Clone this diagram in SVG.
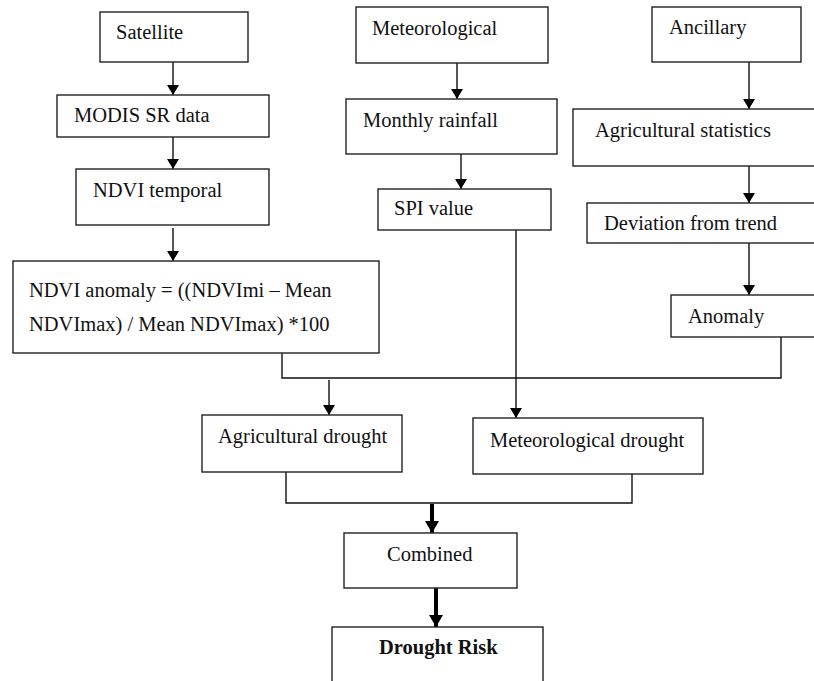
<svg xmlns="http://www.w3.org/2000/svg" width="814" height="681" viewBox="0 0 814 681">
<defs>
<marker id="ah" viewBox="0 0 10 12" refX="10" refY="6" markerWidth="10" markerHeight="12" markerUnits="userSpaceOnUse" orient="auto">
<path d="M0,0 L10,6 L0,12 Z" fill="#000"/>
</marker>
<marker id="ahb" viewBox="0 0 12 14" refX="12" refY="7" markerWidth="12" markerHeight="14" markerUnits="userSpaceOnUse" orient="auto">
<path d="M0,0 L12,7 L0,14 Z" fill="#000"/>
</marker>
</defs>
<style>
rect{fill:#fff;stroke:#222;stroke-width:1.4}
text{font-family:"Liberation Serif","Times New Roman",serif;font-size:20.5px;fill:#111}
.b{font-weight:bold}
.c{fill:none;stroke:#111;stroke-width:1.4}
.a{marker-end:url(#ah)}
.t{fill:none;stroke:#000;stroke-width:4;marker-end:url(#ahb)}
</style>
<rect width="814" height="681" style="fill:#fff;stroke:none"/>
<g id="connectors">
<line class="c a" x1="173" y1="62" x2="173" y2="95"/>
<line class="c a" x1="173" y1="137" x2="173" y2="169"/>
<line class="c a" x1="173" y1="228" x2="173" y2="261"/>
<line class="c a" x1="457" y1="63" x2="457" y2="99"/>
<line class="c a" x1="461" y1="154" x2="461" y2="189"/>
<line class="c a" x1="749" y1="62" x2="749" y2="109"/>
<line class="c a" x1="749" y1="166" x2="749" y2="203"/>
<line class="c a" x1="749" y1="243" x2="749" y2="295"/>
<polyline class="c" points="282,353 282,378 781,378 781,337"/>
<line class="c a" x1="329" y1="380" x2="329" y2="415"/>
<line class="c a" x1="516" y1="230" x2="516" y2="418"/>
<polyline class="c" points="286,472 286,503 632,503 632,474"/>
<line class="t" x1="432" y1="504" x2="432" y2="533"/>
<line class="t" x1="436" y1="588" x2="436" y2="627"/>
</g>
<g id="satellite"><rect x="100" y="12" width="148" height="50"/><text x="116" y="39">Satellite</text></g>
<g id="modis"><rect x="57" y="95" width="212" height="42"/><text x="74" y="122">MODIS SR data</text></g>
<g id="ndvi-temporal"><rect x="76" y="169" width="193" height="56"/><text x="93" y="197">NDVI temporal</text></g>
<g id="ndvi-anomaly"><rect x="13" y="261" width="366" height="92"/><text x="29" y="297">NDVI anomaly = ((NDVImi – Mean</text><text x="29" y="331">NDVImax) / Mean NDVImax) *100</text></g>
<g id="meteorological"><rect x="356" y="7" width="192" height="56"/><text x="372" y="35">Meteorological</text></g>
<g id="monthly-rainfall"><rect x="346" y="99" width="211" height="55"/><text x="363" y="127">Monthly rainfall</text></g>
<g id="spi-value"><rect x="378" y="189" width="173" height="41"/><text x="394" y="215">SPI value</text></g>
<g id="ancillary"><rect x="652" y="7" width="149" height="55"/><text x="669" y="34">Ancillary</text></g>
<g id="agri-stats"><rect x="573" y="109" width="250" height="57"/><text x="595" y="137">Agricultural statistics</text></g>
<g id="deviation"><rect x="587" y="203" width="236" height="40"/><text x="604" y="230">Deviation from trend</text></g>
<g id="anomaly"><rect x="671" y="295" width="152" height="42"/><text x="688" y="323">Anomaly</text></g>
<g id="agri-drought"><rect x="202" y="415" width="200" height="57"/><text x="218" y="443">Agricultural drought</text></g>
<g id="met-drought"><rect x="473" y="418" width="230" height="56"/><text x="490" y="447">Meteorological drought</text></g>
<g id="combined"><rect x="344" y="533" width="173" height="55"/><text x="387" y="561">Combined</text></g>
<g id="drought-risk"><rect x="332" y="627" width="211" height="70"/><text class="b" x="379" y="654">Drought Risk</text></g>
</svg>
